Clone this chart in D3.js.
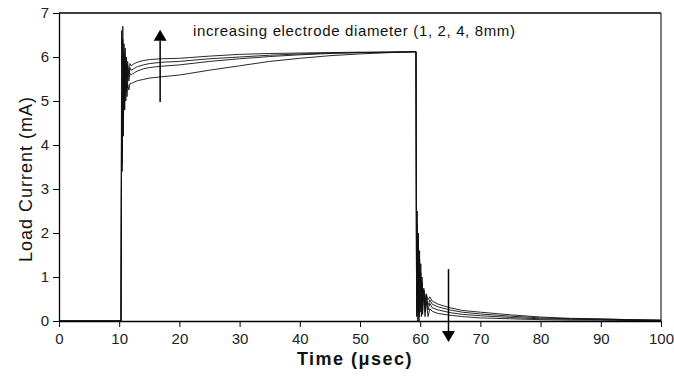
<!DOCTYPE html>
<html>
<head>
<meta charset="utf-8">
<script src="https://cdn.jsdelivr.net/npm/d3@7"></script>
<style>
  html, body { margin: 0; padding: 0; background: #fff; }
  svg { display: block; }
</style>
</head>
<body>
<div id="chart"></div>
<script>
// ---------- data ----------
const time = [0, 10.3, 10.4, 10.5, 10.6, 10.7, 10.8, 10.9, 11.0, 11.1, 11.2, 11.3, 11.4, 11.6, 11.8, 12.0, 12.5, 13, 14, 15, 17, 20, 25, 30, 35, 40, 45, 50, 55, 59.3,
  59.4, 59.5, 59.6, 59.7, 59.8, 59.9, 60.0, 60.1, 60.2, 60.3, 60.4, 60.6, 60.8, 61.0, 61.3, 61.6, 62, 63, 65, 67, 70, 75, 80, 85, 90, 95, 100];

const seriesNames = ["8mm", "4mm", "2mm", "1mm"];

const current8mm = [0, 0, 6.6, 3.6, 6.7, 4.2, 6.3, 4.8, 6.2, 5.2, 6.0, 5.4, 5.9, 5.6, 5.85, 5.8, 5.85, 5.88, 5.92, 5.94, 5.96, 5.97, 6.02, 6.06, 6.08, 6.09, 6.10, 6.11, 6.11, 6.12,
  0.3, 2.5, 0.0, 2.0, 0.1, 1.6, 0.2, 1.3, 0.1, 1.0, 0.15, 0.7, 0.1, 0.45, 0.1, 0.28, 0.22, 0.17, 0.13, 0.10, 0.07, 0.05, 0.03, 0.02, 0.02, 0.01, 0.01];

const current4mm = [0, 0, 5.2, 3.9, 6.4, 4.6, 6.1, 5.0, 6.0, 5.3, 5.9, 5.5, 5.8, 5.55, 5.75, 5.7, 5.74, 5.78, 5.82, 5.85, 5.88, 5.9, 5.96, 6.0, 6.04, 6.07, 6.09, 6.10, 6.11, 6.12,
  0.1, 2.2, 0.2, 1.8, 0.0, 1.4, 0.3, 1.1, 0.2, 0.9, 0.25, 0.75, 0.2, 0.55, 0.25, 0.4, 0.3, 0.25, 0.19, 0.15, 0.12, 0.08, 0.05, 0.04, 0.03, 0.02, 0.01];

const current2mm = [0, 0, 4.8, 4.4, 6.1, 4.7, 5.9, 5.0, 5.8, 5.2, 5.7, 5.3, 5.65, 5.45, 5.62, 5.6, 5.64, 5.68, 5.73, 5.76, 5.79, 5.82, 5.9, 5.96, 6.01, 6.05, 6.08, 6.10, 6.11, 6.12,
  0.2, 1.9, 0.3, 1.5, 0.1, 1.2, 0.35, 1.0, 0.3, 0.85, 0.35, 0.7, 0.3, 0.6, 0.35, 0.48, 0.38, 0.32, 0.25, 0.20, 0.16, 0.11, 0.07, 0.05, 0.04, 0.03, 0.02];

const current1mm = [0, 0, 4.0, 3.4, 5.8, 4.5, 5.6, 4.8, 5.5, 5.0, 5.45, 5.1, 5.4, 5.25, 5.4, 5.4, 5.43, 5.46, 5.49, 5.52, 5.55, 5.59, 5.7, 5.8, 5.9, 5.97, 6.03, 6.07, 6.10, 6.12,
  0.4, 1.6, 0.5, 1.3, 0.3, 1.1, 0.5, 0.9, 0.45, 0.8, 0.5, 0.7, 0.45, 0.62, 0.48, 0.55, 0.45, 0.38, 0.30, 0.24, 0.20, 0.14, 0.09, 0.06, 0.05, 0.03, 0.02];

const xTicks = [0, 10, 20, 30, 40, 50, 60, 70, 80, 90, 100];
const yTicks = [0, 1, 2, 3, 4, 5, 6, 7];

const annotationText = "increasing electrode diameter (1, 2, 4, 8mm)";
// arrows: [time, fromValue, toValue]
const upArrow = [16.8, 4.98, 6.62];
const downArrow = [64.7, 1.18, -0.48];

// ---------- chart ----------
const W = 674, H = 376;
const svg = d3.select("#chart").append("svg").attr("width", W).attr("height", H)
  .style("background", "#fff");

const x = d3.scaleLinear().domain([0, 100]).range([59, 661]);
const y = d3.scaleLinear().domain([0, 7]).range([321, 13]);

const font = "'Liberation Sans', Arial, sans-serif";

// series
const allSeries = [current8mm, current4mm, current2mm, current1mm];
const line = d3.line().x((d, i) => x(time[i])).y(d => y(d));
svg.append("g").selectAll("path").data(allSeries).join("path")
  .attr("d", d => line(d))
  .attr("fill", "none")
  .attr("stroke", "#111")
  .attr("stroke-width", 0.9)
  .attr("stroke-linejoin", "round");

// frame top & right
svg.append("line").attr("x1", x(0)).attr("x2", x(100)).attr("y1", y(7)).attr("y2", y(7))
  .attr("stroke", "#000").attr("stroke-width", 1.4);
svg.append("line").attr("x1", x(100)).attr("x2", x(100)).attr("y1", y(7)).attr("y2", y(0))
  .attr("stroke", "#000").attr("stroke-width", 1);

// axes
const xAxis = svg.append("g").attr("transform", `translate(0,${y(0)})`)
  .call(d3.axisBottom(x).tickValues(xTicks).tickFormat(d3.format("d")).tickSize(6).tickPadding(6).tickSizeOuter(0));
const yAxis = svg.append("g").attr("transform", `translate(${x(0)},0)`)
  .call(d3.axisLeft(y).tickValues(yTicks).tickFormat(d3.format("d")).tickSize(6).tickPadding(4).tickSizeOuter(0));
[xAxis, yAxis].forEach(a => {
  a.select(".domain").attr("stroke", "#000").attr("stroke-width", 1.3);
  a.selectAll(".tick line").attr("stroke", "#000").attr("stroke-width", 1);
  a.selectAll(".tick text").attr("font-family", font).attr("font-size", 15).attr("fill", "#222");
});

// axis titles
svg.append("text")
  .attr("transform", `translate(32,${(y(0) + y(7)) / 2 + 12}) rotate(-90)`)
  .attr("text-anchor", "middle")
  .attr("font-family", font).attr("font-size", 18).attr("letter-spacing", 1)
  .attr("fill", "#111")
  .text("Load Current (mA)");

svg.append("text")
  .attr("x", 355).attr("y", 365)
  .attr("text-anchor", "middle")
  .attr("font-family", font).attr("font-size", 18).attr("font-weight", "bold")
  .attr("letter-spacing", 1.5)
  .attr("fill", "#111")
  .text("Time (μsec)");

// annotation
svg.append("text")
  .attr("x", 193).attr("y", 36)
  .attr("font-family", font).attr("font-size", 15)
  .attr("textLength", 322).attr("lengthAdjust", "spacing")
  .attr("fill", "#111")
  .text(annotationText);

// arrows
function arrow(a, dir) {
  const xa = x(a[0]);
  const yFrom = y(a[1]), yTip = y(a[2]);
  const headLen = 11, headW = 6.5;
  const yBase = yTip + (dir === "up" ? headLen : -headLen);
  svg.append("line").attr("x1", xa).attr("x2", xa).attr("y1", yFrom).attr("y2", yBase)
    .attr("stroke", "#000").attr("stroke-width", 1.5);
  svg.append("path")
    .attr("d", `M${xa},${yTip} L${xa - headW},${yBase} L${xa + headW},${yBase} Z`)
    .attr("fill", "#000");
}
arrow(upArrow, "up");
arrow(downArrow, "down");
</script>
</body>
</html>
